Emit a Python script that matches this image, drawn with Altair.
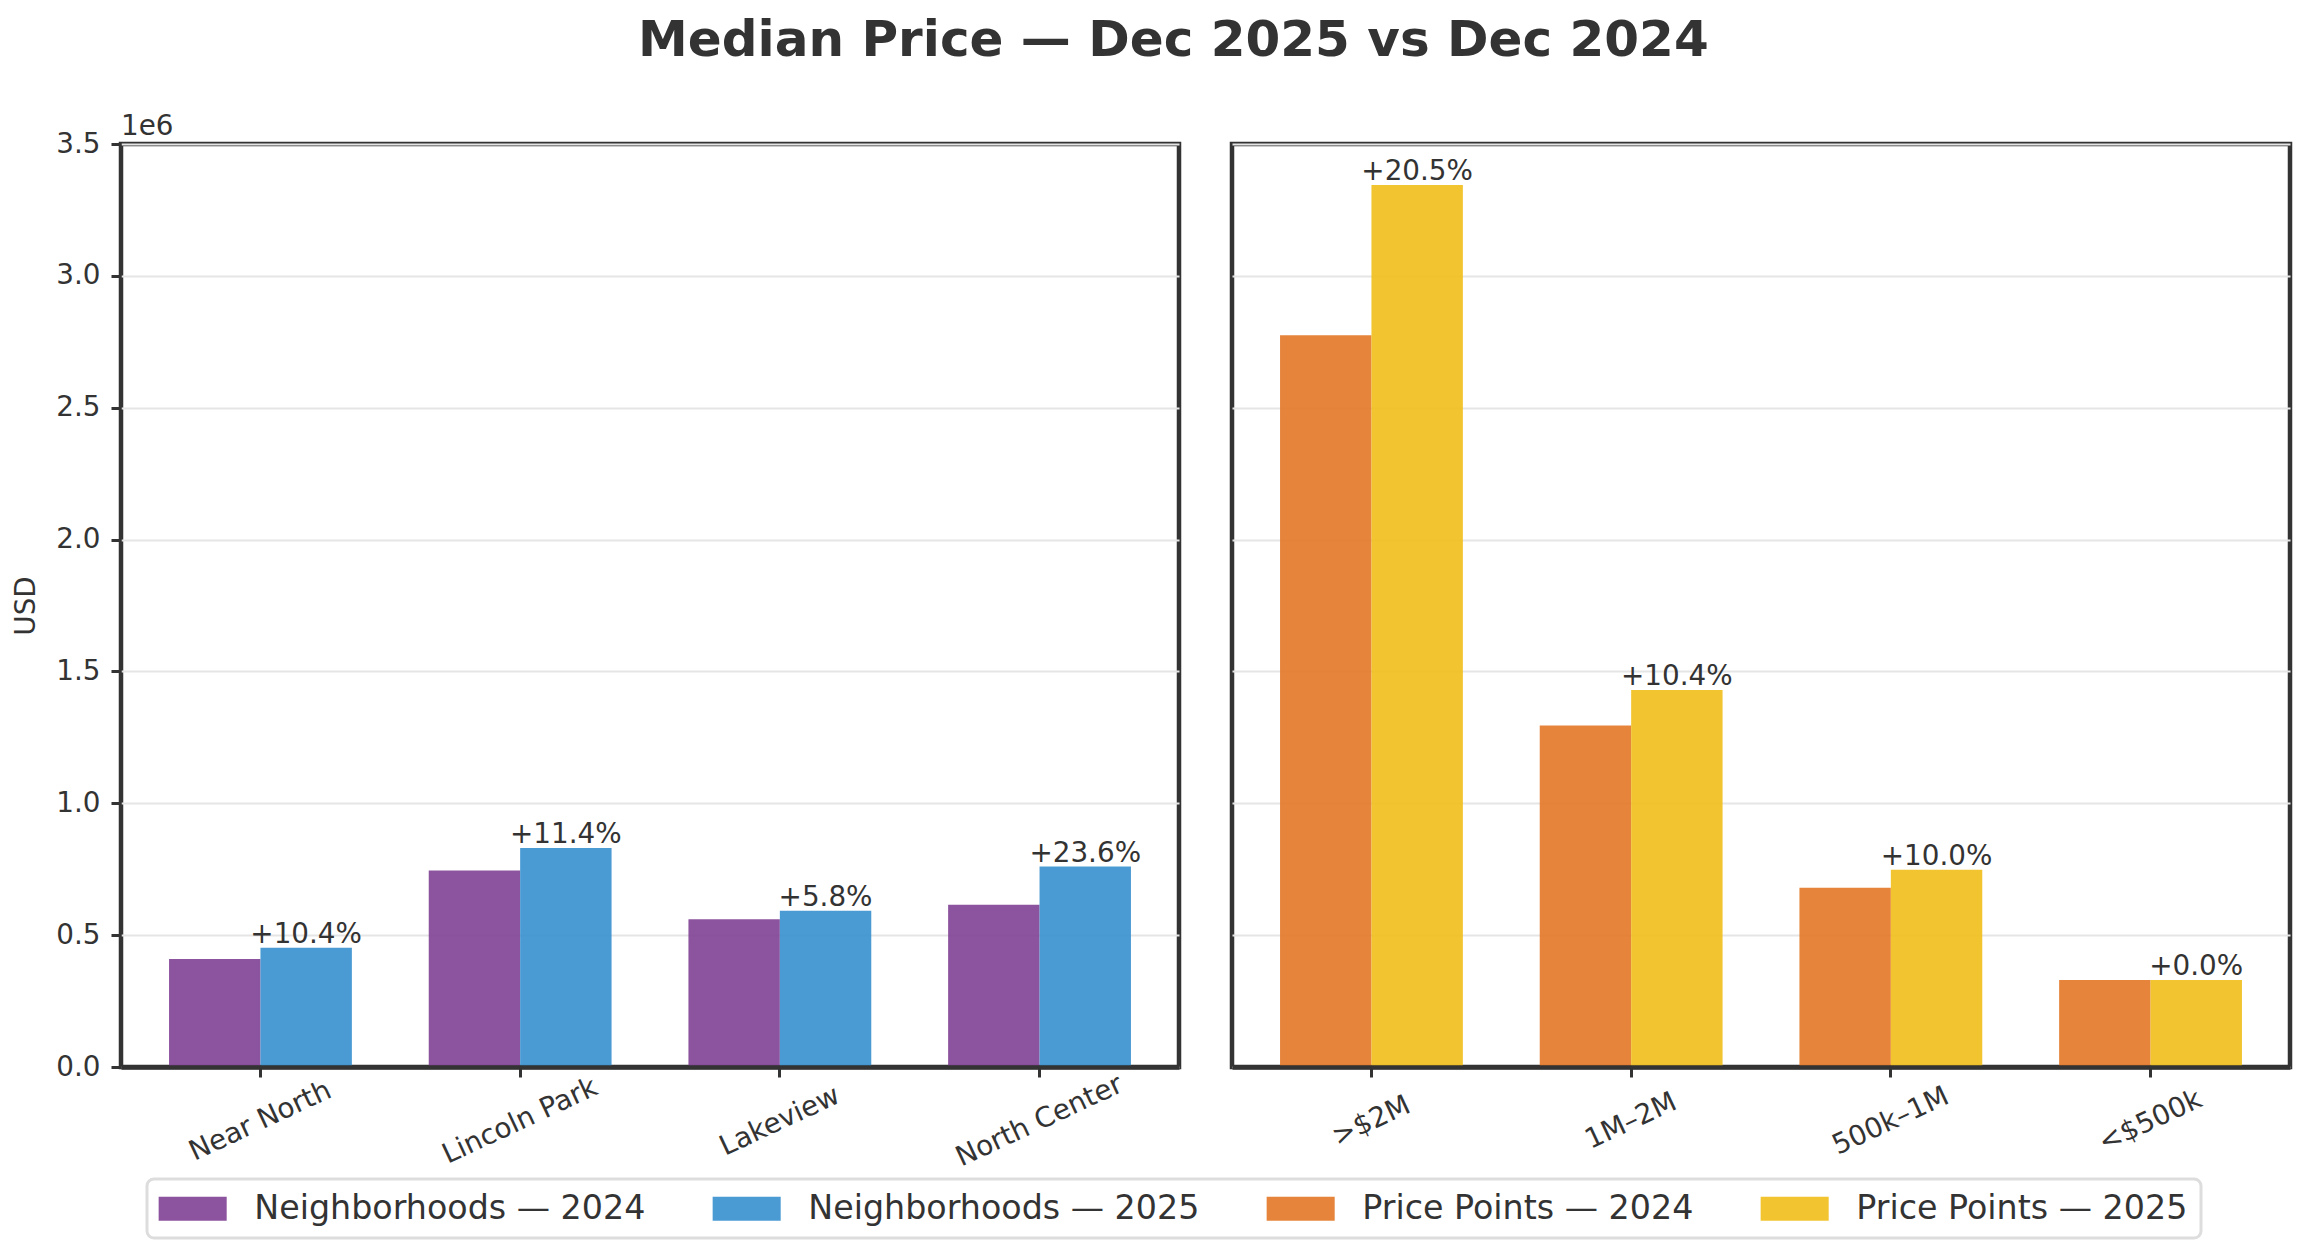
import altair as alt
import pandas as pd

FONT = "DejaVu Sans"
DARK = "#333333"

# ---- data ----
years = ["2024", "2025"]
left_group = "Neighborhoods"
left_cats = ["Near North", "Lincoln Park", "Lakeview", "North Center"]
left_2024 = [410000, 745000, 560000, 615000]
left_2025 = [452500, 830000, 592500, 760000]
left_pct = ["+10.4%", "+11.4%", "+5.8%", "+23.6%"]

right_group = "Price Points"
right_cats = [">$2M", "1M–2M", "500k–1M", "<$500k"]
right_2024 = [2775000, 1295000, 680000, 330000]
right_2025 = [3345000, 1430000, 748000, 330000]
right_pct = ["+20.5%", "+10.4%", "+10.0%", "+0.0%"]

y_ticks = [0, 500000, 1000000, 1500000, 2000000, 2500000, 3000000, 3500000]

series_domain = [
    "Neighborhoods — 2024", "Neighborhoods — 2025",
    "Price Points — 2024", "Price Points — 2025",
]
series_colors = ["#7F4093", "#368FCE", "#E37726", "#F0BE1A"]


def bars_frame(group, cats, v24, v25):
    rows = []
    for c, a, b in zip(cats, v24, v25):
        rows.append({"cat": c, "year": "2024", "series": f"{group} — 2024", "value": a})
        rows.append({"cat": c, "year": "2025", "series": f"{group} — 2025", "value": b})
    return pd.DataFrame(rows)


def label_frame(cats, v25, pct):
    return pd.DataFrame({"cat": cats, "year": "2025", "value": v25, "label": pct})


color = alt.Color(
    "series:N",
    scale=alt.Scale(domain=series_domain, range=series_colors),
    legend=alt.Legend(
        title=None,
        orient="none",
        legendX=26,
        legendY=1035,
        direction="horizontal",
        columns=4,
        symbolType="M-1.5,-1H4.17V1H-1.5Z",
        symbolSize=576,
        symbolStrokeWidth=0,
        symbolOpacity=0.9,
        labelFont=FONT,
        labelFontSize=33.3,
        labelColor=DARK,
        labelLimit=900,
        labelOffset=61,
        columnPadding=66,
        padding=13,
        strokeColor="#dddddd",
        cornerRadius=7,
        fillColor="#ffffff",
    ),
)

grid_kw = dict(grid=True, gridColor="#e5e5e5", gridWidth=2)

left_y_axis = alt.Axis(
    values=y_ticks,
    labelExpr="format(datum.value / 1000000, '.1f')",
    title="USD",
    domain=False,
    tickSize=10,
    tickWidth=3,
    tickColor=DARK,
    labelFont=FONT,
    labelFontSize=27.8,
    labelColor=DARK,
    labelPadding=11,
    titleFont=FONT,
    titleFontSize=27.8,
    titleFontWeight="normal",
    titleColor=DARK,
    titlePadding=15,
    **grid_kw,
)

right_y_axis = alt.Axis(
    values=y_ticks,
    labels=False,
    ticks=False,
    domain=False,
    title=None,
    **grid_kw,
)

x_axis = alt.Axis(
    labelAngle=-25,
    labelAlign="center",
    labelBaseline="middle",
    labelPadding=44,
    labelFont=FONT,
    labelFontSize=27.8,
    labelColor=DARK,
    labelLimit=500,
    labelOverlap=False,
    tickSize=10,
    tickWidth=3,
    tickColor=DARK,
    domain=True,
    domainColor=DARK,
    domainWidth=4.5,
    grid=False,
    zindex=1,
)


def panel(df, dft, cats, yaxis, ytitle, title=None):
    x = alt.X("cat:N", sort=cats, title=None,
              scale=alt.Scale(paddingInner=0.296, paddingOuter=0.185), axis=x_axis)
    xo = alt.XOffset("year:N", sort=years,
                     scale=alt.Scale(domain=years, paddingInner=0, paddingOuter=0))
    y = alt.Y("value:Q", title=ytitle,
              scale=alt.Scale(domain=[0, 3500000], nice=False, zero=True), axis=yaxis)
    bars = alt.Chart(df).mark_bar(opacity=0.9).encode(x=x, xOffset=xo, y=y, color=color)
    text = alt.Chart(dft).mark_text(
        dy=-5, baseline="alphabetic", align="center",
        font=FONT, fontSize=27.8, color=DARK,
    ).encode(x=x, xOffset=xo, y=y, text="label:N")
    props = dict(width=1058, height=923)
    if title is not None:
        props["title"] = title
    return alt.layer(bars, text).properties(**props)


left = panel(
    bars_frame(left_group, left_cats, left_2024, left_2025),
    label_frame(left_cats, left_2025, left_pct),
    left_cats, left_y_axis, "USD",
    title=alt.TitleParams("1e6", anchor="start", frame="group", font=FONT,
                          fontSize=27.8, fontWeight="normal", color=DARK,
                          baseline="alphabetic", offset=-33),
)
right = panel(
    bars_frame(right_group, right_cats, right_2024, right_2025),
    label_frame(right_cats, right_2025, right_pct),
    right_cats, right_y_axis, None,
)

chart = alt.hconcat(left, right, spacing=53, bounds="flush").properties(
    title=alt.TitleParams(
        "Median Price — Dec 2025 vs Dec 2024",
        font=FONT, fontSize=50, fontWeight="bold", color=DARK,
        anchor="middle", frame="bounds", baseline="alphabetic", offset=5, dx=22,
    ),
    padding={"left": 2, "top": 7, "right": 5, "bottom": 5},
).configure(
    font=FONT,
    view=alt.ViewConfig(stroke=DARK, strokeWidth=4.5),
    legend=alt.LegendConfig(strokeWidth=3),
)

chart.save("out.html", embed_options={"renderer": "svg", "actions": False})
